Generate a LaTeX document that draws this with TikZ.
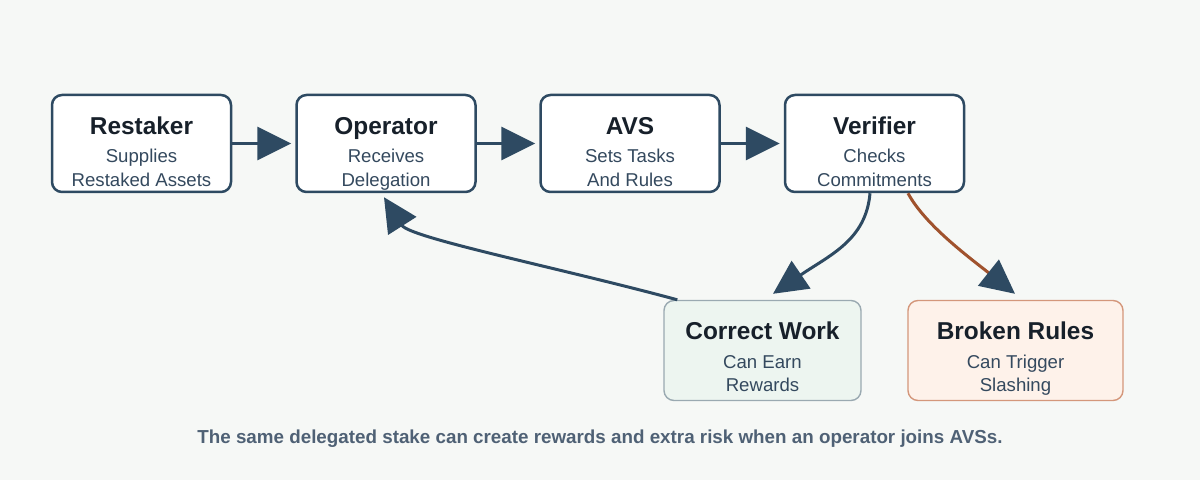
\documentclass[tikz,border=0pt]{standalone}
\usepackage{fontspec}
\setmainfont{Liberation Sans}
\usetikzlibrary{arrows.meta,calc}
\definecolor{bg}{HTML}{F6F8F6}
\definecolor{ink}{HTML}{2E4A62}
\definecolor{ttlc}{HTML}{17202A}
\definecolor{subc}{HTML}{34495E}
\definecolor{cwfill}{HTML}{EDF5F0}
\definecolor{cwline}{HTML}{9AA9B1}
\definecolor{brfill}{HTML}{FEF2EA}
\definecolor{brline}{HTML}{D4977B}
\definecolor{rust}{HTML}{A0522D}
\definecolor{capc}{HTML}{4F6175}
\begin{document}
\begin{tikzpicture}[x=0.5pt,y=-0.5pt,
  box/.style={draw=ink, line width=1.25pt, fill=white, rounded corners=5pt,
    minimum width=89.5pt, minimum height=48.5pt, inner sep=0pt},
  goodbox/.style={box, draw=cwline, line width=0.7pt, fill=cwfill,
    minimum width=98.5pt, minimum height=50pt},
  badbox/.style={box, draw=brline, line width=0.7pt, fill=brfill,
    minimum width=107.5pt, minimum height=50pt},
  ttl/.style={anchor=base, font=\fontsize{12.2}{14}\selectfont\bfseries, text=ttlc, inner sep=0pt},
  sub/.style={anchor=base, font=\fontsize{9.3}{12}\selectfont, text=subc, inner sep=0pt},
  arr/.style={draw=ink, line width=1.5pt, -{Triangle[length=17pt,width=16.5pt]}},
  rarr/.style={draw=rust, line width=1.5pt, -{Triangle[length=17pt,width=16.5pt,color=ink]}},
  capt/.style={font=\fontsize{9.4}{11}\selectfont\bfseries, text=capc, inner sep=0pt}
]
\fill[bg] (0,0) rectangle (1200,480);
\useasboundingbox (0,0) rectangle (1200,480);

% boxes
\node[box] (r) at (141.5,143.5) {};
\node[box] (o) at (386,143.5) {};
\node[box] (a) at (630,143.5) {};
\node[box] (v) at (874.5,143.5) {};
\node[goodbox] (c) at (762.5,350.5) {};
\node[badbox] (b) at (1015.5,350.5) {};

% texts
\node[ttl] (rt) at (141.5,135) {Restaker};
\node[sub] (rs1) at (141.5,163) {Supplies};
\node[sub] (rs2) at (141.5,187) {Restaked Assets};
\node[ttl] (ot) at (386,135) {Operator};
\node[sub] (os1) at (386,163) {Receives};
\node[sub] (os2) at (386,187) {Delegation};
\node[ttl] (at) at (630,135) {AVS};
\node[sub] (as1) at (630,163) {Sets Tasks};
\node[sub] (as2) at (630,187) {And Rules};
\node[ttl] (vt) at (874.5,135) {Verifier};
\node[sub] (vs1) at (874.5,163) {Checks};
\node[sub] (vs2) at (874.5,187) {Commitments};
\node[ttl] (ct) at (762.5,340) {Correct Work};
\node[sub] (cs1) at (762.5,369) {Can Earn};
\node[sub] (cs2) at (762.5,392) {Rewards};
\node[ttl] (bt) at (1015.5,340) {Broken Rules};
\node[sub] (bs1) at (1015.5,369) {Can Trigger};
\node[sub] (bs2) at (1015.5,392) {Slashing};

\node[capt] (cap) at (600,439) {The same delegated stake can create rewards and extra risk when an operator joins AVSs.};

% straight arrows
\draw[arr] (r.east) -- ([xshift=-2pt]o.west);
\draw[arr] (o.east) -- ([xshift=-2pt]a.west);
\draw[arr] (a.east) -- ([xshift=-2pt]v.west);

% curved arrows
\draw[arr] ($(v.south)+(-4.5,0)$) .. controls (866,240) and (830,255) .. ($(c.north)+(10.5,-6)$);
\draw[rarr] ($(v.south)+(33.5,0)$) .. controls (925,225) and (970,258) .. ($(b.north)+(-0.5,-6)$);
\draw[arr] ($(c.north west)+(14,0)$) .. controls (560,268) and (410,238) .. ($(o.south)+(-2,4)$);
\end{tikzpicture}
\end{document}
